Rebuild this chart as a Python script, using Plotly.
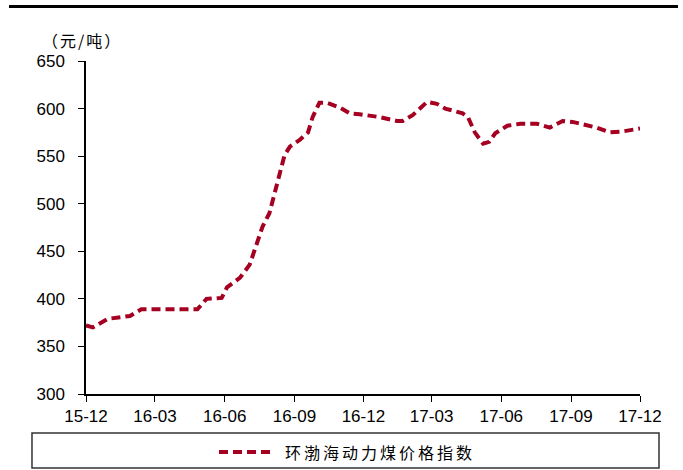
import plotly.graph_objects as go

# 环渤海动力煤价格指数 (元/吨)
dates = [
    "2015-12-01", "2015-12-10", "2015-12-30", "2016-01-28", "2016-02-12",
    "2016-04-26", "2016-05-08", "2016-05-28", "2016-06-04", "2016-06-21",
    "2016-07-04", "2016-07-13", "2016-07-21", "2016-07-30", "2016-08-06",
    "2016-08-12", "2016-08-19", "2016-08-26", "2016-09-08", "2016-09-19",
    "2016-09-25", "2016-10-04", "2016-10-14", "2016-10-31", "2016-11-13",
    "2016-11-26", "2016-12-23", "2017-01-14", "2017-01-22", "2017-02-04",
    "2017-02-23", "2017-03-08", "2017-03-19", "2017-04-11", "2017-04-18",
    "2017-04-27", "2017-05-08", "2017-05-16", "2017-05-24", "2017-06-09",
    "2017-06-26", "2017-07-18", "2017-08-04", "2017-08-21", "2017-09-03",
    "2017-09-19", "2017-10-05", "2017-10-22", "2017-11-08", "2017-12-01",
]
prices = [
    372, 370, 379, 382, 389,
    389, 400, 401, 412, 422,
    436, 457, 476, 490, 511,
    532, 551, 560, 567, 575,
    591, 606, 606, 601, 595,
    594, 591, 587, 587, 593,
    607, 605, 600, 595, 591,
    575, 563, 565, 574, 582,
    584, 584, 580, 587, 586,
    583, 580, 575, 576, 579,
]

series_name = "环渤海动力煤价格指数"
unit_label = "（元/吨）"

tick_dates = ["2015-12-01", "2016-03-01", "2016-06-01", "2016-09-01", "2016-12-01",
              "2017-03-01", "2017-06-01", "2017-09-01", "2017-12-01"]
tick_text = ["15-12", "16-03", "16-06", "16-09", "16-12",
             "17-03", "17-06", "17-09", "17-12"]
y_ticks = [300, 350, 400, 450, 500, 550, 600, 650]

line_color = "#A50021"
num_font = "Liberation Sans Narrow, Arial Narrow, Liberation Sans, Arial, sans-serif"
cjk_font = "Noto Sans CJK SC, sans-serif"

fig = go.Figure()
fig.add_trace(go.Scatter(
    x=dates, y=prices, mode="lines", name=series_name,
    line=dict(color=line_color, width=4, dash="9px,5px"),
    showlegend=False, cliponaxis=False,
))

fig.update_layout(
    width=683, height=470,
    margin=dict(l=86, r=43, t=61, b=76),
    paper_bgcolor="white", plot_bgcolor="white",
    xaxis=dict(
        type="date", range=["2015-12-01", "2017-12-01"],
        tickmode="array", tickvals=tick_dates, ticktext=tick_text,
        showgrid=False, zeroline=False,
        showline=True, linecolor="#000", linewidth=1.5,
        ticks="outside", ticklen=6, tickcolor="#000", tickwidth=1.2,
        tickfont=dict(family=num_font, size=17, color="#000"),
    ),
    yaxis=dict(
        range=[300, 650], tickmode="array", tickvals=y_ticks,
        showgrid=False, zeroline=False,
        showline=True, linecolor="#000", linewidth=1.5,
        ticks="outside", ticklen=6, tickcolor="#000", tickwidth=1.2,
        ticklabelstandoff=10,
        tickfont=dict(family=num_font, size=17, color="#000"),
    ),
    shapes=[
        # heavy rule across the top
        dict(type="line", xref="paper", yref="paper",
             x0=-0.139, x1=1.0686, y0=1.1637, y1=1.1637,
             line=dict(color="#000", width=3)),
        # legend frame
        dict(type="rect", xref="paper", yref="paper",
             x0=-0.0975, x1=1.0343, y0=-0.2222, y1=-0.1171,
             line=dict(color="#333", width=1.5)),
        # legend sample line
        dict(type="line", xref="paper", yref="paper",
             x0=0.2401, x1=0.3412, y0=-0.1742, y1=-0.1742,
             line=dict(color=line_color, width=4, dash="9px,5px")),
    ],
    annotations=[
        dict(text=f'<span style="letter-spacing:2px">{unit_label}</span>',
             xref="paper", yref="paper",
             x=-0.0072, y=1.063, xanchor="center", yanchor="middle",
             showarrow=False, font=dict(family=cjk_font, size=16, color="#000")),
        dict(text=f'<span style="letter-spacing:3px">{series_name}</span>',
             xref="paper", yref="paper",
             x=0.3556, y=-0.1742, xanchor="left", yanchor="middle",
             showarrow=False, font=dict(family=cjk_font, size=16, color="#000")),
    ],
)

fig.write_html("out.html")
